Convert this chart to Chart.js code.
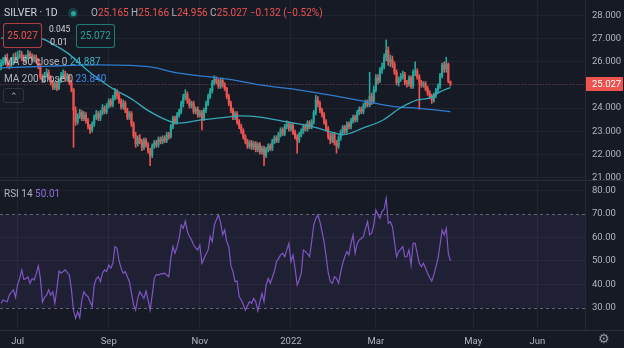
<!DOCTYPE html>
<html>
<head>
<meta charset="utf-8">
<script src="https://cdn.jsdelivr.net/npm/chart.js@4.4.1/dist/chart.umd.min.js"></script>
<style>
  body { margin: 0; background: #161a25; width: 624px; height: 348px; overflow: hidden; position: relative; font-family: Roboto, "Noto Sans", sans-serif; }
  canvas { position: absolute; left: 0; }
  #price { top: 0; }
  #rsi { top: 181px; }
  .t { position: absolute; white-space: nowrap; font-size: 10px; color: #b2b5be; z-index: 2; line-height: 12px; }
  .r { color: #ef5350; }
  .box { position: absolute; z-index: 2; border-radius: 3px; font-size: 10px; text-align: center; background: #161a25; }
</style>
</head>
<body>
<canvas id="price" width="624" height="181"></canvas>
<canvas id="rsi" width="624" height="167"></canvas>

<div class="t" style="left:4px;top:7px;font-size:10.5px;color:#d1d4dc">SILVER · 1D</div>
<div style="position:absolute;left:68px;top:8px;width:10px;height:10px;border-radius:5px;background:rgba(38,166,154,0.25);z-index:2"></div>
<div style="position:absolute;left:70.5px;top:10.5px;width:5px;height:5px;border-radius:3px;background:#26a69a;z-index:2"></div>
<div class="t" style="left:91px;top:7px">O<span class="r">25.165</span> H<span class="r">25.166</span> L<span class="r">24.956</span> C<span class="r">25.027</span> <span class="r">−0.132 (−0.52%)</span></div>

<div class="box" style="left:3px;top:23px;width:37px;height:23px;line-height:23px;border:1px solid rgba(239,83,80,0.7);color:#ef5350">25.027</div>
<div class="t" style="left:49px;top:23px;font-size:8.5px;color:#d1d4dc">0.045</div>
<div class="t" style="left:50px;top:36px;font-size:9px;color:#d1d4dc">0.01</div>
<div class="box" style="left:76px;top:24px;width:37px;height:22px;line-height:22px;border:1px solid rgba(38,166,154,0.7);color:#26a69a">25.072</div>

<div class="t" style="left:4px;top:56px">MA 50 close 0 <span style="color:#3fb4c4">24.887</span></div>
<div class="t" style="left:4px;top:73px">MA 200 close 0 <span style="color:#3d8ef0">23.840</span></div>
<div class="box" style="left:3px;top:88px;width:19px;height:13px;line-height:15px;border:1px solid #2f333e;color:#b2b5be;font-size:9px">⌃</div>

<div class="t" style="left:4px;top:188px">RSI 14 <span style="color:#8e6fd6">50.01</span></div>
<div class="t" style="left:598px;top:333px;font-size:13px;color:#9598a1">⚙</div>

<script>
// daily OHLC, one bar per trading day
const opens = [
  25.80, 25.95, 26.05, 26.15, 25.90, 25.85, 26.00, 26.20, 26.10, 26.25,
  26.30, 26.15, 26.05, 26.20, 26.35, 26.25, 26.10, 26.20, 26.05, 25.80,
  25.35, 25.20, 25.45, 25.55, 25.30, 25.10, 24.90, 25.05, 24.85, 25.20,
  25.40, 25.50, 25.25, 25.40, 25.10, 24.80, 23.90, 23.40, 23.65, 23.80,
  23.55, 23.70, 23.45, 23.20, 23.05, 23.30, 23.60, 23.75, 23.55, 23.80,
  24.00, 23.85, 24.10, 24.30, 24.15, 24.45, 24.70, 24.55, 24.30, 24.05,
  24.20, 23.90, 23.60, 23.75, 23.30, 22.80, 22.45, 22.70, 22.55, 22.30,
  22.60, 22.40, 22.15, 21.95, 22.35, 22.50, 22.40, 22.65, 22.55, 22.70,
  22.60, 22.85, 22.75, 23.20, 23.55, 23.40, 23.70, 23.85, 24.20, 24.45,
  24.60, 24.30, 24.10, 24.20, 23.85, 23.95, 23.70, 23.80, 23.55, 23.90,
  24.20, 24.50, 24.75, 25.10, 25.25, 25.15, 24.95, 25.20, 25.00, 24.85,
  24.50, 24.20, 23.90, 23.60, 23.75, 23.40, 23.20, 23.00, 22.75, 22.55,
  22.35, 22.50, 22.30, 22.45, 22.20, 22.40, 22.10, 22.25, 21.95, 22.20,
  22.35, 22.25, 22.55, 22.70, 22.60, 22.85, 23.05, 22.90, 23.20, 23.30,
  23.10, 23.25, 22.95, 22.75, 22.60, 22.85, 23.00, 23.20, 23.10, 23.35,
  23.20, 23.40, 23.80, 24.35, 24.20, 23.90, 23.70, 23.40, 23.10, 22.75,
  22.60, 22.85, 22.50, 22.35, 22.70, 22.95, 23.15, 23.00, 23.30, 23.20,
  23.45, 23.60, 23.50, 23.80, 23.95, 23.85, 24.10, 24.25, 24.15, 24.50,
  24.30, 24.80, 25.30, 25.20, 25.65, 25.80, 26.20, 26.50, 26.00, 26.10,
  25.90, 25.55, 25.10, 25.25, 25.35, 25.45, 25.10, 25.05, 25.30, 24.95,
  25.55, 25.60, 25.35, 25.10, 25.00, 25.05, 24.85, 24.65, 24.50, 24.35,
  24.55, 24.75, 24.95, 25.40, 25.85, 25.70, 25.90, 25.165
];
const highs = [
  26.10, 26.20, 26.30, 26.35, 26.05, 26.15, 26.35, 26.40, 26.45, 26.50,
  26.45, 26.30, 26.30, 26.50, 26.45, 26.35, 26.30, 26.30, 26.15, 25.90,
  25.45, 25.55, 25.70, 25.65, 25.40, 25.20, 25.15, 25.15, 25.30, 25.55,
  25.65, 25.60, 25.50, 25.45, 25.20, 24.85, 24.05, 23.75, 23.95, 23.90,
  23.85, 23.80, 23.55, 23.30, 23.40, 23.70, 23.90, 23.85, 23.90, 24.15,
  24.10, 24.20, 24.40, 24.40, 24.55, 24.85, 24.80, 24.65, 24.40, 24.35,
  24.30, 24.00, 23.85, 23.85, 23.40, 22.95, 22.80, 22.85, 22.65, 22.70,
  22.70, 22.50, 22.25, 22.45, 22.60, 22.60, 22.75, 22.75, 22.80, 22.80,
  22.95, 22.95, 23.30, 23.65, 23.65, 23.80, 23.95, 24.30, 24.60, 24.80,
  24.70, 24.40, 24.30, 24.30, 24.05, 24.05, 23.90, 23.90, 24.00, 24.30,
  24.60, 24.85, 25.20, 25.40, 25.35, 25.25, 25.30, 25.30, 25.10, 24.90,
  24.60, 24.30, 24.00, 23.85, 23.85, 23.50, 23.30, 23.10, 22.85, 22.65,
  22.60, 22.60, 22.55, 22.55, 22.50, 22.50, 22.35, 22.35, 22.30, 22.45,
  22.45, 22.65, 22.80, 22.80, 22.95, 23.15, 23.15, 23.30, 23.45, 23.40,
  23.35, 23.35, 23.05, 22.85, 22.95, 23.10, 23.30, 23.30, 23.45, 23.45,
  23.50, 23.90, 24.55, 24.50, 24.30, 24.00, 23.80, 23.50, 23.20, 22.90,
  22.95, 22.95, 22.60, 22.80, 23.05, 23.25, 23.25, 23.40, 23.40, 23.55,
  23.70, 23.70, 23.90, 24.05, 24.05, 24.20, 24.35, 24.35, 25.55, 24.65,
  24.95, 25.45, 25.45, 25.75, 25.95, 26.35, 26.95, 26.65, 26.30, 26.25,
  26.00, 25.65, 25.35, 25.50, 25.60, 25.55, 25.20, 25.40, 25.40, 25.65,
  26.00, 25.70, 25.45, 25.20, 25.15, 25.15, 24.95, 24.75, 24.60, 24.65,
  24.85, 25.05, 25.50, 25.95, 26.00, 26.20, 25.95, 25.166
];
const lows = [
  25.65, 25.85, 25.95, 25.80, 25.70, 25.75, 25.90, 26.00, 26.00, 26.15,
  26.05, 25.95, 25.95, 26.10, 26.15, 26.00, 26.00, 25.95, 25.70, 25.25,
  25.10, 25.10, 25.35, 25.25, 25.00, 24.80, 24.80, 24.75, 24.80, 25.10,
  25.30, 25.15, 25.15, 25.00, 24.70, 22.30, 23.25, 23.30, 23.55, 23.45,
  23.45, 23.35, 23.10, 22.90, 22.95, 23.20, 23.50, 23.45, 23.45, 23.70,
  23.75, 23.75, 24.00, 24.05, 24.05, 24.35, 24.40, 24.20, 23.95, 23.95,
  23.80, 23.50, 23.50, 23.20, 22.70, 22.30, 22.35, 22.45, 22.15, 22.20,
  22.30, 22.05, 21.50, 21.85, 22.25, 22.30, 22.30, 22.45, 22.45, 22.50,
  22.50, 22.65, 22.70, 23.10, 23.30, 23.30, 23.60, 23.75, 24.05, 24.35,
  24.20, 24.00, 24.00, 23.75, 23.75, 23.60, 23.60, 23.05, 23.45, 23.80,
  24.10, 24.40, 24.65, 25.00, 25.05, 24.85, 24.85, 24.90, 24.75, 24.40,
  24.10, 23.80, 23.50, 23.50, 23.30, 23.10, 22.90, 22.65, 22.45, 22.25,
  22.25, 22.20, 22.20, 22.10, 22.10, 22.00, 22.00, 21.50, 21.85, 22.10,
  22.15, 22.15, 22.45, 22.50, 22.50, 22.75, 22.80, 22.80, 23.10, 23.00,
  23.00, 22.85, 22.65, 22.05, 22.50, 22.75, 22.90, 23.00, 23.00, 23.10,
  23.10, 23.30, 23.70, 24.05, 23.80, 23.60, 23.30, 23.00, 22.65, 22.45,
  22.50, 22.40, 22.05, 22.25, 22.60, 22.85, 22.90, 22.90, 23.10, 23.10,
  23.35, 23.40, 23.40, 23.70, 23.75, 23.75, 24.00, 24.05, 24.05, 24.15,
  24.20, 24.70, 25.05, 25.10, 25.50, 25.70, 26.05, 25.85, 25.80, 25.75,
  25.45, 25.00, 24.95, 25.15, 25.25, 25.00, 24.90, 24.95, 24.85, 24.85,
  25.40, 25.25, 23.95, 24.90, 24.90, 24.75, 24.55, 24.40, 24.20, 24.25,
  24.45, 24.65, 24.85, 25.30, 25.55, 25.55, 25.10, 24.956
];
const closes = [
  25.95, 26.05, 26.15, 25.90, 25.85, 26.00, 26.20, 26.10, 26.25, 26.30,
  26.15, 26.05, 26.20, 26.35, 26.25, 26.10, 26.20, 26.05, 25.80, 25.35,
  25.20, 25.45, 25.55, 25.30, 25.10, 24.90, 25.05, 24.85, 25.20, 25.40,
  25.50, 25.25, 25.40, 25.10, 24.80, 23.90, 23.40, 23.65, 23.80, 23.55,
  23.70, 23.45, 23.20, 23.05, 23.30, 23.60, 23.75, 23.55, 23.80, 24.00,
  23.85, 24.10, 24.30, 24.15, 24.45, 24.70, 24.55, 24.30, 24.05, 24.20,
  23.90, 23.60, 23.75, 23.30, 22.80, 22.45, 22.70, 22.55, 22.30, 22.60,
  22.40, 22.15, 21.95, 22.35, 22.50, 22.40, 22.65, 22.55, 22.70, 22.60,
  22.85, 22.75, 23.20, 23.55, 23.40, 23.70, 23.85, 24.20, 24.45, 24.60,
  24.30, 24.10, 24.20, 23.85, 23.95, 23.70, 23.80, 23.55, 23.90, 24.20,
  24.50, 24.75, 25.10, 25.25, 25.15, 24.95, 25.20, 25.00, 24.85, 24.50,
  24.20, 23.90, 23.60, 23.75, 23.40, 23.20, 23.00, 22.75, 22.55, 22.35,
  22.50, 22.30, 22.45, 22.20, 22.40, 22.10, 22.25, 21.95, 22.20, 22.35,
  22.25, 22.55, 22.70, 22.60, 22.85, 23.05, 22.90, 23.20, 23.30, 23.10,
  23.25, 22.95, 22.75, 22.60, 22.85, 23.00, 23.20, 23.10, 23.35, 23.20,
  23.40, 23.80, 24.35, 24.20, 23.90, 23.70, 23.40, 23.10, 22.75, 22.60,
  22.85, 22.50, 22.35, 22.70, 22.95, 23.15, 23.00, 23.30, 23.20, 23.45,
  23.60, 23.50, 23.80, 23.95, 23.85, 24.10, 24.25, 24.15, 24.50, 24.30,
  24.80, 25.30, 25.20, 25.65, 25.80, 26.20, 26.50, 26.00, 26.10, 25.90,
  25.55, 25.10, 25.25, 25.35, 25.45, 25.10, 25.05, 25.30, 24.95, 25.55,
  25.60, 25.35, 25.10, 25.00, 25.05, 24.85, 24.65, 24.50, 24.35, 24.55,
  24.75, 24.95, 25.40, 25.85, 25.70, 25.90, 25.17, 25.027
];

// moving averages, read at bar positions
const ma50Idx = [0, 20, 24, 32, 41.5, 52.7, 63.8, 70.5, 76.8, 83, 86.5, 96, 105.8, 115.5, 125, 138, 150.7, 159, 165, 175, 184.5, 192.8, 201, 207, 212, 217];
const ma50 = [27.03, 26.99, 26.82, 26.39, 25.65, 24.91, 24.35, 23.92, 23.61, 23.38, 23.35, 23.48, 23.57, 23.66, 23.61, 23.40, 23.18, 22.97, 22.84, 23.14, 23.48, 24.00, 24.35, 24.44, 24.70, 24.887];
const ma200Idx = [0, 24, 48, 72, 85, 101, 112, 125, 144.4, 163.8, 179.7, 191.3, 201, 217];
const ma200 = [25.74, 25.82, 25.87, 25.78, 25.52, 25.35, 25.22, 25.00, 24.78, 24.48, 24.22, 24.05, 24.00, 23.84];

// RSI(14), one value per bar
const rsi = [
  32.0, 33.4, 33.0, 32.7, 35.5, 36.8, 37.7, 34.5, 40.0, 42.5,
  46.2, 42.2, 42.5, 43.3, 40.5, 42.5, 41.9, 44.5, 47.9, 42.6,
  32.5, 34.5, 35.5, 37.7, 35.5, 36.9, 32.0, 38.4, 45.7, 44.8,
  45.5, 46.2, 45.0, 44.0, 37.7, 29.1, 25.6, 28.4, 25.9, 33.4,
  36.9, 35.5, 34.8, 32.7, 30.6, 39.8, 42.5, 43.3, 41.2, 44.8,
  46.2, 45.5, 48.3, 46.9, 49.0, 56.1, 55.4, 50.0, 46.9, 44.8,
  45.5, 43.3, 41.2, 36.2, 31.3, 29.1, 34.1, 36.9, 35.5, 34.1,
  37.2, 33.4, 29.1, 35.5, 42.6, 44.3, 44.0, 44.5, 44.5, 44.8,
  44.0, 43.3, 51.1, 56.1, 53.3, 56.0, 59.6, 65.3, 63.9, 67.0,
  62.5, 60.4, 58.9, 56.8, 55.5, 54.7, 56.8, 49.0, 51.1, 53.0,
  54.7, 60.4, 58.2, 65.3, 67.5, 69.6, 66.5, 61.1, 63.2, 58.2,
  56.1, 48.0, 45.5, 41.2, 41.5, 34.8, 33.4, 31.5, 29.1, 31.0,
  32.7, 32.0, 34.1, 32.7, 28.7, 32.7, 36.2, 32.7, 39.8, 42.6,
  40.5, 43.0, 45.5, 49.7, 51.0, 52.6, 53.3, 51.8, 54.7, 57.5,
  49.7, 52.6, 46.9, 39.8, 42.0, 44.8, 54.7, 54.0, 53.0, 51.8,
  58.2, 65.3, 68.0, 69.6, 66.7, 62.5, 58.2, 51.8, 45.0, 41.2,
  40.5, 43.3, 42.6, 40.5, 45.0, 49.0, 51.8, 54.0, 52.6, 57.5,
  61.1, 53.3, 57.5, 59.0, 59.6, 60.4, 63.9, 66.7, 61.1, 61.8,
  65.3, 71.7, 69.6, 68.2, 71.0, 72.1, 76.7, 66.0, 66.7, 64.6,
  58.2, 51.8, 54.0, 55.0, 56.1, 51.8, 51.8, 54.7, 48.3, 57.5,
  57.5, 53.0, 49.0, 47.6, 49.0, 46.9, 44.8, 43.0, 41.5, 44.0,
  47.5, 51.0, 56.8, 63.2, 61.1, 63.9, 53.3, 50.01
];

// time axis
const tickIdx = [8, 52, 96, 140, 181, 228, 259];
const tickLabels = ['Jul', 'Sep', 'Nov', '2022', 'Mar', 'May', 'Jun'];
const priceTicks = [21, 22, 23, 24, 25, 26, 27, 28];
const rsiTicks = [30, 40, 50, 60, 70, 80];

const upColor = '#26a69a';
const downColor = '#ef5350';
const gridColor = 'rgba(42, 46, 57, 0.55)';
const axisText = '#b2b5be';
const font = { family: 'Roboto, "Noto Sans", sans-serif', size: 9.5 };

Chart.defaults.animation = false;
Chart.defaults.devicePixelRatio = 1;

const bars = closes.map((_, i) => i);
const candleColors = closes.map((c, i) => (c >= opens[i] ? upColor : downColor));
const lastClose = closes[closes.length - 1];

const xAxis = (showLabels) => ({
  type: 'linear',
  min: -0.5,
  max: 282,
  offset: false,
  afterBuildTicks: (s) => { s.ticks = tickIdx.map((v) => ({ value: v })); },
  afterFit: (s) => { s.height = showLabels ? 18 : 0; s.paddingLeft = 0; s.paddingRight = 0; },
  grid: { color: gridColor, drawTicks: false, offset: false },
  border: { display: false },
  ticks: {
    display: showLabels,
    autoSkip: false,
    maxRotation: 0,
    padding: 6,
    color: axisText,
    font: font,
    callback: (v, i) => tickLabels[i]
  }
});

const yAxis = (lo, hi, ticks, digits) => ({
  position: 'right',
  min: lo,
  max: hi,
  afterBuildTicks: (s) => { s.ticks = ticks.map((v) => ({ value: v })); },
  afterFit: (s) => { s.width = 39; s.paddingTop = 0; s.paddingBottom = 0; },
  grid: { color: gridColor, drawTicks: false },
  border: { display: true, color: '#262a36' },
  ticks: { color: axisText, font: font, padding: 7, callback: (v) => v.toFixed(digits) }
});

// last price line and label on the price axis
const lastPricePlugin = {
  id: 'lastPrice',
  beforeDatasetsDraw(chart) {
    const { ctx, chartArea, scales } = chart;
    const y = Math.round(scales.y.getPixelForValue(lastClose)) + 0.5;
    ctx.save();
    ctx.strokeStyle = 'rgba(239, 83, 80, 0.35)';
    ctx.lineWidth = 1;
    ctx.setLineDash([1, 2]);
    ctx.beginPath();
    ctx.moveTo(chartArea.left, y);
    ctx.lineTo(chartArea.right, y);
    ctx.stroke();
    ctx.restore();
  },
  afterDraw(chart) {
    const { ctx, chartArea, scales } = chart;
    const y = scales.y.getPixelForValue(lastClose);
    ctx.save();
    ctx.fillStyle = downColor;
    ctx.fillRect(chartArea.right + 1, Math.round(y) - 7, 37, 14);
    ctx.fillStyle = '#ffffff';
    ctx.font = '9.5px Roboto, "Noto Sans", sans-serif';
    ctx.textBaseline = 'middle';
    ctx.fillText(lastClose.toFixed(3), chartArea.right + 7, Math.round(y) + 0.5);
    // pane divider
    ctx.fillStyle = '#2a2e39';
    ctx.fillRect(0, chart.height - 1, chart.width, 1);
    ctx.restore();
  }
};

new Chart(document.getElementById('price'), {
  type: 'bar',
  data: {
    datasets: [
      {
        type: 'line',
        label: 'MA 50',
        data: ma50Idx.map((x, k) => ({ x: x, y: ma50[k] })),
        borderColor: '#36a9b8',
        borderWidth: 1.3,
        pointRadius: 0,
        cubicInterpolationMode: 'monotone',
        order: 1
      },
      {
        type: 'line',
        label: 'MA 200',
        data: ma200Idx.map((x, k) => ({ x: x, y: ma200[k] })),
        borderColor: '#2f7bd0',
        borderWidth: 1.3,
        pointRadius: 0,
        cubicInterpolationMode: 'monotone',
        order: 1
      },
      {
        label: 'body',
        data: bars.map((i) => ({ x: i, y: [opens[i], closes[i]] })),
        backgroundColor: candleColors,
        barThickness: 1.5,
        minBarLength: 1,
        grouped: false,
        order: 2
      },
      {
        label: 'wick',
        data: bars.map((i) => ({ x: i, y: [lows[i], highs[i]] })),
        backgroundColor: candleColors,
        barThickness: 1,
        grouped: false,
        order: 3
      }
    ]
  },
  options: {
    responsive: false,
    layout: { padding: 0 },
    plugins: { legend: { display: false }, tooltip: { enabled: false } },
    scales: {
      x: xAxis(false),
      y: yAxis(20.84, 28.68, priceTicks, 3)
    }
  },
  plugins: [lastPricePlugin]
});

// RSI band between 30 and 70 with dashed bounds
const rsiBandPlugin = {
  id: 'rsiBand',
  beforeDatasetsDraw(chart) {
    const { ctx, chartArea, scales } = chart;
    const y70 = Math.round(scales.y.getPixelForValue(70)) + 0.5;
    const y30 = Math.round(scales.y.getPixelForValue(30)) + 0.5;
    ctx.save();
    ctx.fillStyle = 'rgba(126, 87, 194, 0.1)';
    ctx.fillRect(chartArea.left, y70, chartArea.right - chartArea.left, y30 - y70);
    ctx.strokeStyle = 'rgba(150, 153, 164, 0.6)';
    ctx.lineWidth = 1;
    ctx.setLineDash([3, 3]);
    [y70, y30].forEach((y) => {
      ctx.beginPath();
      ctx.moveTo(chartArea.left, y);
      ctx.lineTo(chartArea.right, y);
      ctx.stroke();
    });
    ctx.restore();
  },
  afterDraw(chart) {
    const { ctx, chartArea } = chart;
    ctx.save();
    ctx.fillStyle = '#2a2e39';
    ctx.fillRect(0, chartArea.bottom, chart.width, 1);
    ctx.restore();
  }
};

const rsiY = yAxis(20.64, 83.6, rsiTicks, 2);
rsiY.grid.color = (c) => (c.tick && (c.tick.value === 30 || c.tick.value === 70) ? 'rgba(0,0,0,0)' : gridColor);

new Chart(document.getElementById('rsi'), {
  type: 'line',
  data: {
    datasets: [{
      label: 'RSI 14',
      data: bars.map((i) => ({ x: i, y: rsi[i] })),
      borderColor: '#7e57c2',
      borderWidth: 1.2,
      pointRadius: 0,
      tension: 0
    }]
  },
  options: {
    responsive: false,
    layout: { padding: { top: 1 } },
    plugins: { legend: { display: false }, tooltip: { enabled: false } },
    scales: {
      x: xAxis(true),
      y: rsiY
    }
  },
  plugins: [rsiBandPlugin]
});
</script>
</body>
</html>
